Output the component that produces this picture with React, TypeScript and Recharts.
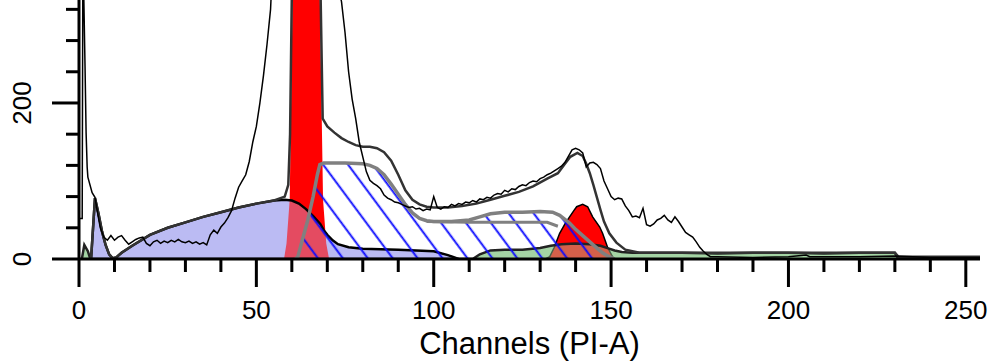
import React from 'react';
import { ComposedChart, Area, Line, XAxis, YAxis } from 'recharts';

type Pt = [number, number];

// [channel, count] pairs for each fitted component
const debris: Pt[] = [
  [3.4, 0], [4.5, 78], [5.5, 58], [6.5, 35], [7.5, 18], [8.5, 6], [9.5, 1], [10.5, 2],
  [12, 8], [15, 17], [20, 31], [25, 40], [30, 47], [35, 54], [40, 60], [45, 66], [50, 71],
  [55, 75], [58, 76], [60, 75], [62, 71], [64, 64], [66, 55], [68, 45], [69, 37], [70, 31],
  [71.5, 24], [73, 19], [76, 15], [80, 13], [90, 12], [100, 10], [104, 5], [107, 0],
];

const aggregates: Pt[] = [
  [0.8, 0], [1.5, 18], [2.5, 10], [3.2, 0], [111, 0], [113, 6], [116, 11], [120, 12],
  [125, 12], [130, 14], [133, 17], [136, 19], [140, 20], [144, 19], [147, 17], [149, 14],
  [151, 11], [153, 9], [156, 8], [160, 8], [170, 8], [180, 7], [190, 8], [200, 8],
  [210, 7], [220, 8], [230, 8], [231, 0],
];

const g1Peak: Pt[] = [
  [57.8, 0], [58.5, 20], [59.4, 76], [60.2, 332], [61, 800], [64, 1500], [67, 800],
  [67.9, 332], [68.8, 76], [69.7, 20], [70.5, 0],
];

const g2Peak: Pt[] = [
  [131.5, 0], [132.7, 3], [134, 15], [135.5, 33], [137, 45], [138.3, 54], [139.5, 62],
  [140.3, 67], [142, 70], [143.4, 67], [144.8, 54], [146.8, 41], [147.6, 33], [149, 15],
  [150.4, 3], [151, 0],
];

const sPhase: Pt[] = [
  [61, 0], [61.7, 3], [63, 25], [64.5, 50], [66, 80], [67.2, 108], [67.9, 121], [69, 123],
  [75, 123], [80, 122], [82, 120], [84, 116], [86, 108], [88, 96], [90, 83], [92, 70],
  [94, 59], [96, 52], [98, 49], [100, 48], [105, 48], [110, 50], [113, 54], [116, 58],
  [120, 60], [125, 60], [130, 61], [133.5, 60], [135.5, 56], [138.3, 46], [140, 38],
  [142, 30], [144, 22], [146, 14], [147.6, 8], [149, 4], [151, 0],
];

// lower S-phase boundary of the second population
const sPhaseInner: Pt[] = [[98, 48], [110, 47], [120, 47], [132, 47], [135, 42]];

const modelTotal: Pt[] = [
  [3.4, 0], [4.5, 78], [5.5, 58], [6.5, 35], [7.5, 18], [8.5, 6], [9.5, 1], [10.5, 2],
  [12, 8], [15, 17], [20, 31], [25, 40], [30, 47], [35, 54], [40, 60], [45, 66], [50, 71],
  [55, 75], [58, 80], [59, 95], [59.5, 160], [60, 340], [60.6, 900], [64, 1600],
  [67.5, 900], [68.1, 340], [68.7, 180], [70, 170], [72, 162], [74, 155], [76, 150],
  [78, 146], [80, 144], [82, 144], [84, 142], [86, 137], [88, 126], [90, 108], [92, 88],
  [94, 76], [96, 70], [98, 67], [100, 66], [104, 66], [108, 68], [112, 71], [116, 76],
  [120, 81], [124, 86], [128, 93], [132, 103], [135, 110], [137, 122], [138.5, 131],
  [140.5, 136], [142, 132], [143, 122], [144, 110], [145, 95], [146, 79], [147, 63],
  [148, 48], [149.5, 33], [151.5, 21], [154, 12], [158, 8], [165, 8], [230, 8], [231, 3],
  [254, 3],
];

const rawCounts: Pt[] = [
  [0, 52], [0.9, 52], [1.1, 400], [1.7, 247], [2, 162], [2.3, 118], [2.5, 105], [3.7, 85],
  [4.5, 79], [5.2, 60], [6, 40], [7, 28], [8, 24], [9, 30], [10, 24], [11, 28], [12, 30],
  [13, 24], [14, 19], [15, 22], [16, 25], [17, 27], [18, 28], [19, 20], [20, 17], [21, 22],
  [22, 24], [23, 20], [24, 23], [25, 21], [26, 24], [27, 22], [28, 25], [29, 22], [30, 21],
  [31, 23], [32, 20], [33, 22], [34, 19], [35, 21], [36, 18], [37, 31], [38, 37], [39, 33],
  [40, 41], [41, 46], [42, 53], [43, 62], [44, 78], [45, 92], [46, 100], [47, 108],
  [48, 125], [49, 150], [50, 170], [51, 200], [52, 235], [53, 275], [54, 320], [55, 420],
  [56, 600], [58, 1200], [62, 2500], [66, 2200], [70, 900], [72, 500], [73.5, 340],
  [74, 330], [75, 290], [76, 240], [77, 205], [78, 180], [79, 150], [80, 131], [81, 112],
  [82, 101], [83, 97], [84, 94], [85, 90], [86, 82], [87, 78], [88, 76], [89, 73], [90, 72],
  [91, 70], [92, 68], [93, 66], [94, 67], [95, 64], [96, 65], [97, 62], [98, 64], [99, 63],
  [100, 80], [101, 66], [102, 64], [103, 67], [104, 66], [105, 70], [106, 68], [107, 71],
  [108, 70], [109, 73], [110, 72], [111, 75], [112, 73], [113, 77], [114, 76], [115, 79],
  [116, 78], [117, 82], [118, 84], [119, 83], [120, 88], [121, 86], [122, 90], [123, 89],
  [124, 93], [125, 95], [126, 94], [127, 98], [128, 100], [129, 99], [130, 103],
  [131, 105], [132, 108], [133, 110], [134, 113], [135, 116], [136, 119], [137, 124],
  [138, 132], [139, 140], [140, 142], [141, 140], [142, 136], [143, 118], [144, 123],
  [145, 124], [146, 121], [147, 116], [148, 100], [149, 90], [150, 80], [151, 76],
  [152, 78], [153, 77], [154, 68], [155, 62], [156, 54], [157, 55], [158, 53], [159, 65],
  [160, 44], [161, 42], [162, 45], [163, 50], [164, 52], [165, 56], [166, 50], [167, 47],
  [168, 54], [169, 48], [170, 41], [171, 34], [172, 31], [173, 28], [174, 22], [175, 15],
  [176, 10], [177, 6], [178, 3], [180, 3], [190, 2], [200, 3], [205, 5], [206, 3],
  [220, 3], [230, 4], [240, 2], [254, 2],
];

const xTicks = [0, 10, 20, 30, 40, 50, 60, 70, 80, 90, 100, 110, 120, 130, 140, 150, 160, 170, 180, 190, 200, 210, 220, 230, 240, 250];
const xLabels = [0, 50, 100, 150, 200, 250];
const yTicks = [0, 40, 80, 120, 160, 200, 240, 280, 320];
const yLabels = [0, 200];

const toRows = (pts: Pt[]) => pts.map(([ch, v]) => ({ ch, v }));

const FONT = '"Liberation Sans", Arial, sans-serif';

const XTick = ({ x, y, payload }: any) => {
  const major = xLabels.includes(payload.value);
  return (
    <g>
      <line x1={x} x2={x} y1={y} y2={y + (major ? 28 : 13)} stroke="#000" strokeWidth={3} />
      {major && (
        <text x={x} y={y + 60} textAnchor="middle" fontSize={26} fontFamily={FONT} fill="#000">
          {payload.value}
        </text>
      )}
    </g>
  );
};

const YTick = ({ x, y, payload }: any) => {
  const major = yLabels.includes(payload.value);
  const cx = x - 57;
  return (
    <g>
      <line x1={x - (major ? 27 : 13)} x2={x} y1={y} y2={y} stroke="#000" strokeWidth={3} />
      {major && (
        <text
          x={cx}
          y={y + 9}
          textAnchor="middle"
          fontSize={26}
          fontFamily={FONT}
          fill="#000"
          transform={`rotate(-90, ${cx}, ${y})`}
        >
          {payload.value}
        </text>
      )}
    </g>
  );
};

const noDot = { dot: false, activeDot: false, isAnimationActive: false } as const;

export default function App() {
  return (
    <div style={{ position: 'absolute', left: 0, top: 0, width: 990, height: 361, background: '#fff' }}>
      <svg width={0} height={0} style={{ position: 'absolute' }}>
        <defs>
          <pattern id="sHatch" patternUnits="userSpaceOnUse" width={20} height={20} patternTransform="rotate(-36.6)">
            <line x1={1.3} y1={0} x2={1.3} y2={20} stroke="#0a0aff" strokeWidth={1.9} />
          </pattern>
        </defs>
      </svg>
      <ComposedChart width={990} height={361} margin={{ top: 0, right: 10, bottom: 0, left: 0 }}>
        <XAxis
          dataKey="ch"
          type="number"
          domain={[0, 254]}
          ticks={xTicks}
          interval={0}
          height={102}
          tickSize={0}
          tickMargin={0}
          tick={<XTick />}
          axisLine={{ stroke: '#000', strokeWidth: 3 }}
          tickLine={false}
          allowDataOverflow
          label={{ value: 'Channels (PI-A)', position: 'insideBottom', offset: 7, fontSize: 31, fontFamily: FONT, fill: '#000' }}
        />
        <YAxis
          type="number"
          domain={[0, 332]}
          ticks={yTicks}
          interval={0}
          width={79}
          tickSize={0}
          tickMargin={0}
          tick={<YTick />}
          axisLine={{ stroke: '#000', strokeWidth: 3 }}
          tickLine={false}
          allowDataOverflow
        />

        {/* solid layers */}
        <Area data={toRows(debris)} dataKey="v" type="linear" fill="#bbbbf3" fillOpacity={1} stroke="none" {...noDot} />
        <Area data={toRows(aggregates)} dataKey="v" type="linear" fill="#a4d4a4" fillOpacity={1} stroke="none" {...noDot} />
        <Area data={toRows(g1Peak)} dataKey="v" type="linear" fill="#ff0000" fillOpacity={1} stroke="none" {...noDot} />
        <Area data={toRows(g2Peak)} dataKey="v" type="linear" fill="#ff0000" fillOpacity={1} stroke="#000" strokeWidth={1.5} {...noDot} />

        {/* translucent overlap where components sit over the red peaks */}
        <Area data={toRows(debris)} dataKey="v" type="linear" fill="#bbbbf3" fillOpacity={0.4} stroke="#000" strokeWidth={2.5} {...noDot} />
        <Area data={toRows(aggregates)} dataKey="v" type="linear" fill="#a4d4a4" fillOpacity={0.45} stroke="#222" strokeWidth={2.5} {...noDot} />

        {/* S phase, hatched */}
        <Area data={toRows(sPhase)} dataKey="v" type="linear" fill="url(#sHatch)" fillOpacity={1} stroke="#808080" strokeWidth={3.5} {...noDot} />
        <Line data={toRows(sPhaseInner)} dataKey="v" type="linear" stroke="#808080" strokeWidth={3} {...noDot} />

        {/* model sum and raw histogram */}
        <Line data={toRows(modelTotal)} dataKey="v" type="linear" stroke="#333" strokeWidth={2.5} {...noDot} />
        <Line data={toRows(rawCounts)} dataKey="v" type="linear" stroke="#000" strokeWidth={1.5} {...noDot} />
      </ComposedChart>
    </div>
  );
}
